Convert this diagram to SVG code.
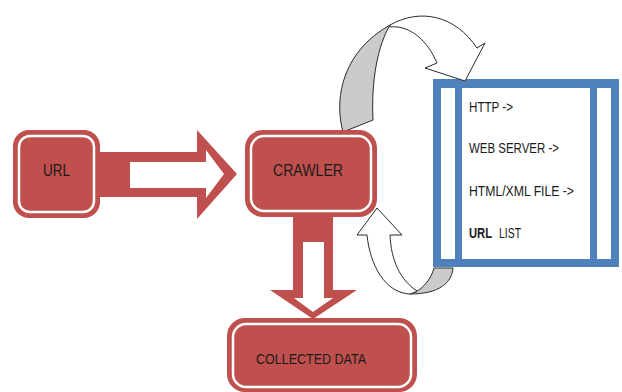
<svg xmlns="http://www.w3.org/2000/svg" width="622" height="392" viewBox="0 0 622 392">
  <style>
    .box { fill: #C0504D; }
    .rim { fill: none; stroke: #FFFFFF; stroke-width: 2.5; }
    .lbl { font-family: "Liberation Sans", Arial, sans-serif; fill: #1A1A1A; }
    .big { font-size: 17px; }
    .mid { font-size: 14px; }
    .block { fill: #C0504D; }
    .hollow { fill: #FFFFFF; }
    .ribbon { fill: #FFFFFF; stroke: #2B2B2B; stroke-width: 1; stroke-linejoin: round; }
    .back { fill: #CBCBCB; stroke: #2B2B2B; stroke-width: 1; stroke-linejoin: round; }
    .frame { fill: #4F81BD; }
  </style>

  <rect width="622" height="392" fill="#FFFFFF"/>

  <!-- URL list panel -->
  <g id="url-list">
    <rect class="frame" x="433" y="79" width="186" height="188"/>
    <rect fill="#FFFFFF" x="441" y="88" width="14" height="171"/>
    <rect fill="#FFFFFF" x="462" y="88" width="128" height="171"/>
    <rect fill="#FFFFFF" x="597" y="88" width="14" height="171"/>
    <text class="lbl mid" x="469" y="112" textLength="44" lengthAdjust="spacingAndGlyphs">HTTP -&gt;</text>
    <text class="lbl mid" x="469" y="153" textLength="90" lengthAdjust="spacingAndGlyphs">WEB SERVER -&gt;</text>
    <text class="lbl mid" x="469" y="196" textLength="105" lengthAdjust="spacingAndGlyphs">HTML/XML FILE -&gt;</text>
    <text class="lbl mid" y="238"><tspan x="469" font-weight="bold" textLength="23" lengthAdjust="spacingAndGlyphs">URL</tspan><tspan x="499" textLength="22" lengthAdjust="spacingAndGlyphs">LIST</tspan></text>
  </g>

  <g id="connectors">
    <!-- URL to crawler -->
    <polygon class="block" points="100,152 197,152 197,130 237,174 197,219 197,197 100,197"/>
    <polygon class="hollow" points="130,162 206,162 206,150 224,174 206,198 206,188 130,188"/>
    <!-- crawler to collected data -->
    <polygon class="block" points="293,214 333,214 333,290 357,290 313,319 270,290 293,290"/>
    <polygon class="hollow" points="303,242 324,242 324,298 333,298 313,312 294,298 303,298"/>
    <!-- crawler out to the list (curved ribbon) -->
    <path class="back" d="M343,132 C333,95 345,50 390,25 C378,45 371,80 373,120 Z"/>
    <path class="ribbon" d="M390,25 C420,8 455,15 477,48 L485,43 L465,81 L425,68 L437,63 C425,35 405,25 390,27 Z"/>
    <!-- list back to crawler (curved ribbon) -->
    <path class="back" d="M416,292 C424,287 431,279 434,268 L453,268 C452,282 440,294 410,294 Z"/>
    <path class="ribbon" d="M377,208 L357,235 L367,235 C370,265 385,293 410,294 C413,293 415,292 417,291 C400,280 391,260 390,235 L402,235 Z"/>
  </g>

  <g id="url">
    <rect class="box" x="13" y="130" width="87" height="88" rx="16"/>
    <rect class="rim" x="19" y="136" width="75" height="76" rx="11"/>
    <text class="lbl big" x="56.5" y="176" text-anchor="middle" textLength="27" lengthAdjust="spacingAndGlyphs">URL</text>
  </g>

  <g id="crawler">
    <rect class="box" x="245" y="130" width="132" height="87" rx="18"/>
    <rect class="rim" x="251" y="136" width="120" height="75" rx="13"/>
    <text class="lbl big" x="308" y="176" text-anchor="middle" textLength="70" lengthAdjust="spacingAndGlyphs">CRAWLER</text>
  </g>

  <g id="collected-data">
    <rect class="box" x="227" y="318" width="190" height="74" rx="18"/>
    <rect class="rim" x="233" y="324" width="178" height="63" rx="13"/>
    <text class="lbl mid" x="256" y="364" textLength="110" lengthAdjust="spacingAndGlyphs">COLLECTED DATA</text>
  </g>
</svg>
